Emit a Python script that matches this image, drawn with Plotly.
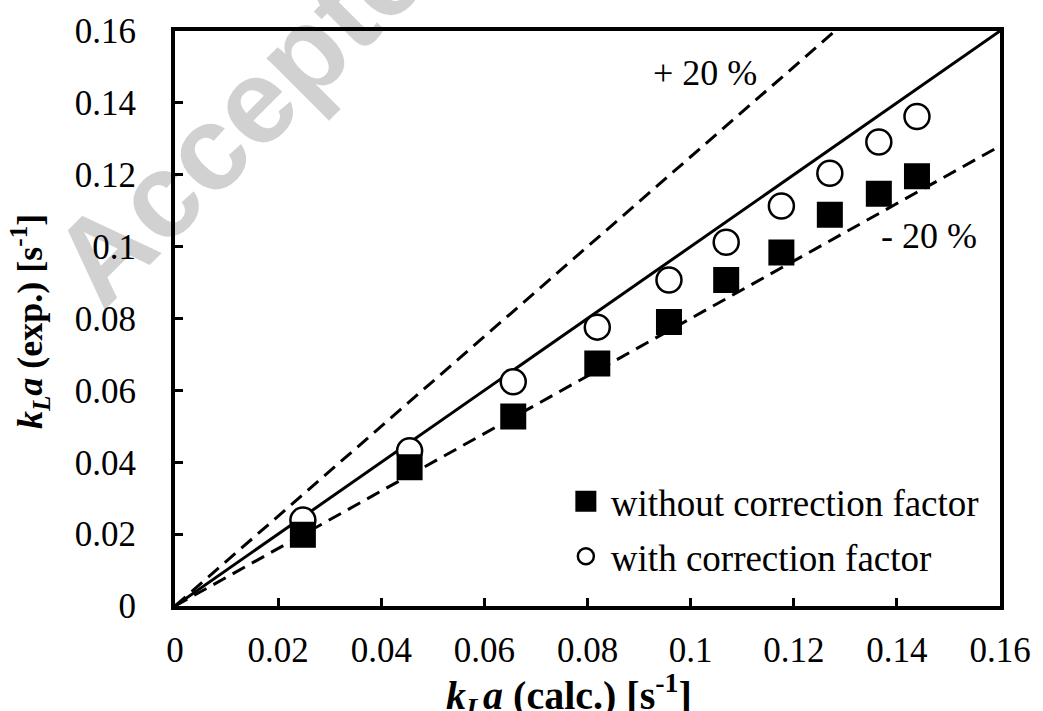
import plotly.graph_objects as go

# ---- data ----
kla_calc = [0.0248, 0.0455, 0.0656, 0.0819, 0.0958, 0.1069, 0.1176, 0.1270, 0.1365, 0.1439]
kla_exp_without = [0.0198, 0.0386, 0.0527, 0.0675, 0.0790, 0.0907, 0.0984, 0.1089, 0.1147, 0.1196]
kla_exp_with = [0.0239, 0.0432, 0.0624, 0.0776, 0.0907, 0.1012, 0.1113, 0.1204, 0.1291, 0.1362]

parity_x = [0.0, 0.16]
slope_parity = 1.0
slope_plus = 1.25   # "+ 20 %" line
slope_minus = 0.8   # "- 20 %" line

tick_vals = [0, 0.02, 0.04, 0.06, 0.08, 0.1, 0.12, 0.14, 0.16]
tick_text = ["0", "0.02", "0.04", "0.06", "0.08", "0.1", "0.12", "0.14", "0.16"]

FONT = "Liberation Serif"

fig = go.Figure()

# reference lines
fig.add_trace(go.Scatter(x=parity_x, y=[v * slope_parity for v in parity_x], mode="lines",
                         line=dict(color="black", width=3), showlegend=False, hoverinfo="skip"))
fig.add_trace(go.Scatter(x=parity_x, y=[v * slope_plus for v in parity_x], mode="lines",
                         line=dict(color="black", width=3, dash="14px,8px"), showlegend=False, hoverinfo="skip"))
fig.add_trace(go.Scatter(x=parity_x, y=[v * slope_minus for v in parity_x], mode="lines",
                         line=dict(color="black", width=3, dash="14px,8px"), showlegend=False, hoverinfo="skip"))

# data
fig.add_trace(go.Scatter(x=kla_calc, y=kla_exp_with, mode="markers", name="with correction factor",
                         legendrank=2, legendgroup="b",
                         marker=dict(symbol="circle", size=25, color="white",
                                     line=dict(color="black", width=2.5))))
fig.add_trace(go.Scatter(x=kla_calc, y=kla_exp_without, mode="markers", name="without correction factor",
                         legendrank=1, legendgroup="a",
                         marker=dict(symbol="square", size=21, color="black",
                                     line=dict(color="black", width=5))))

axis_common = dict(
    range=[0, 0.16], tickvals=tick_vals, ticktext=tick_text,
    showgrid=False, zeroline=False,
    showline=True, linecolor="black", linewidth=4, mirror=True,
    ticks="inside", ticklen=8, tickwidth=3, tickcolor="black",
    tickfont=dict(family=FONT, size=35, color="black"),
)

fig.update_layout(
    width=1043, height=711,
    margin=dict(l=175, r=39, t=27, b=105),
    paper_bgcolor="white", plot_bgcolor="white",
    font=dict(family=FONT, size=36, color="black"),
    xaxis=dict(**axis_common, ticklabelstandoff=10),
    yaxis=dict(**axis_common, ticklabelstandoff=28),
    showlegend=True,
    legend=dict(x=0.4677, y=0.2354, xanchor="left", yanchor="top",
                traceorder="grouped", tracegroupgap=4, itemwidth=40,
                bgcolor="rgba(0,0,0,0)", borderwidth=0,
                font=dict(family=FONT, size=37, color="black")),
)

annotations = [
    # watermark
    dict(text="<b>Accepted Manuscript</b>", xref="paper", yref="paper", x=0.3965, y=1.31,
         xanchor="center", yanchor="middle", showarrow=False, textangle=-45,
         font=dict(family="Liberation Sans", size=120, color="rgba(0,0,0,0.18)")),
    # line labels
    dict(text="+ 20 %", xref="x", yref="y", x=0.1028, y=0.1482, showarrow=False,
         xanchor="center", yanchor="middle", font=dict(family=FONT, size=36, color="black")),
    dict(text="- 20 %", xref="x", yref="y", x=0.1462, y=0.1030, showarrow=False,
         xanchor="center", yanchor="middle", font=dict(family=FONT, size=36, color="black")),
    # axis titles
    dict(text="<b><i>k</i><sub><i>L</i></sub><i>a</i> (calc.) [s<sup>-1</sup>]</b>",
         xref="paper", yref="paper", x=0.4774, y=-0.155, xanchor="center", yanchor="middle",
         showarrow=False, font=dict(family=FONT, size=40, color="black")),
    dict(text="<b><i>k</i><sub><i>L</i></sub><i>a</i> (exp.) [s<sup>-1</sup>]</b>",
         xref="paper", yref="paper", x=-0.1756, y=0.494, xanchor="center", yanchor="middle",
         textangle=-90, showarrow=False, font=dict(family=FONT, size=36, color="black")),
]
fig.update_layout(annotations=annotations)

fig.write_html("out.html")
